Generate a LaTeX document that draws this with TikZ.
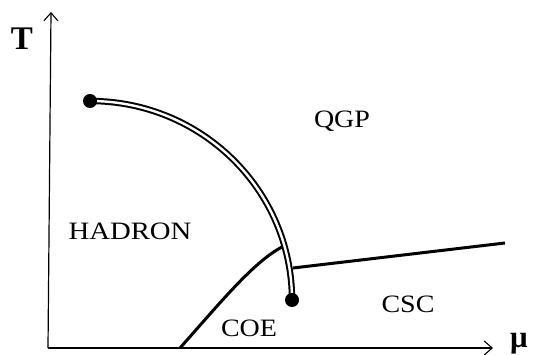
\documentclass[tikz,border=0pt]{standalone}
\usepackage{fontspec}
\setmainfont{Liberation Serif}
\usetikzlibrary{arrows.meta}
\begin{document}
\begin{tikzpicture}[x=1pt,y=1pt,
  axis/.style={line width=1.2pt,-{Straight Barb[length=8pt,width=14pt,line width=1.1pt]}},
  lbl/.style={anchor=base,inner sep=0pt,font=\fontsize{25}{28}\selectfont},
  dot/.style={circle,fill=black,inner sep=0pt,minimum size=14pt},
  phase/.style={line width=3pt},
  dbl/.style={line width=2pt,double=white,double distance=2.4pt}]
\useasboundingbox (0,0) rectangle (534,355);
% axes
\coordinate (o) at (48,7);
\coordinate (ytop) at (51,343);
\coordinate (xend) at (493,7);
\draw[axis] (o) -- (ytop);
\draw[axis] (o) -- (xend);
\node[anchor=base,inner sep=0pt] (T) at (22,305) {\fontsize{33}{36}\selectfont\bfseries T};
\node[anchor=base,inner sep=0pt] (mu) at (519,7) {\fontsize{31}{34}\selectfont\bfseries μ};
% points
\coordinate (cp) at (90,254);
\coordinate (ep) at (292,55);
\coordinate (meet) at (284,109);
\coordinate (tri) at (293,87);
\coordinate (coe0) at (180,7);
\coordinate (csc1) at (505,112);
% lines
\draw[phase] (coe0) .. controls (220,52) and (255,95) .. (meet);
\draw[phase] (tri) -- (csc1);
\draw[dbl] (cp) arc[start angle=90,end angle=0,x radius=202,y radius=199];
\node[dot] (d1) at (cp) {};
\node[dot] (d2) at (ep) {};
% labels
\node[lbl] (qgp) at (342,227) {\scalebox{1.12}[1]{QGP}};
\node[lbl] (had) at (130,115) {\scalebox{1.15}[1]{HADRON}};
\node[lbl] (coe) at (249,18) {\scalebox{1.12}[1]{COE}};
\node[lbl] (csc) at (408,42) {\scalebox{1.12}[1]{CSC}};
\end{tikzpicture}
\end{document}
